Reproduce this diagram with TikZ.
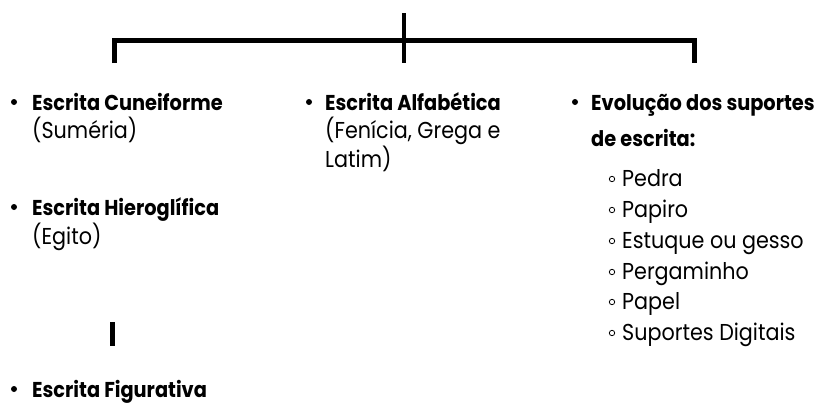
\documentclass[tikz,border=0pt]{standalone}
\usepackage{fontspec}
\setmainfont[FakeStretch=0.9]{Poppins}
\begin{document}
\begin{tikzpicture}[x=1pt,y=-1pt,
  head/.style={anchor=base west,inner sep=0pt,font=\fontsize{21.5}{24}\selectfont\bfseries},
  sub/.style={anchor=base west,inner sep=0pt,font=\fontsize{23}{26}\selectfont},
  bracket/.style={line width=4.5pt,line join=miter,line cap=butt},
  stem/.style={line width=3.5pt,line cap=butt},
  dot/.style={fill=black,draw=none},
  hollow/.style={draw=black,line width=0.8pt,fill=white}]
\useasboundingbox (0,0) rectangle (821,405);
% bracket
\coordinate (top) at (404,13);
\coordinate (mid) at (404,63);
\coordinate (bl) at (114.5,63);
\coordinate (br) at (694.5,63);
\draw[bracket] (bl) -- (114.5,40.5) -- (694.5,40.5) -- (br);
\draw[stem] (top) -- (mid);
% left column
\fill[dot] (14,102) circle (3);
\node[head] (cun) at (32,110) {Escrita Cuneiforme};
\node[sub] (sum) at (32,138) {(Suméria)};
\fill[dot] (14,207) circle (3);
\node[head] (hie) at (32,215) {Escrita Hieroglífica};
\node[sub] (egi) at (32,244) {(Egito)};
\coordinate (bart) at (112,322);
\coordinate (barb) at (112,346);
\draw[line width=5pt] (bart) -- (barb);
\fill[dot] (14,389) circle (3);
\node[head] (fig) at (32,397) {Escrita Figurativa};
% middle column
\fill[dot] (309,102) circle (3);
\node[head] (alf) at (325,110) {Escrita Alfabética};
\node[sub] (fen) at (325,138) {(Fenícia, Grega e};
\node[sub] (lat) at (325,167) {Latim)};
% right column
\fill[dot] (575,102) circle (3);
\node[head] (evo) at (591,110) {Evolução dos suportes};
\node[head] (esc) at (591,146) {de escrita:};
\foreach \t/\y [count=\i] in {Pedra/186,Papiro/217,Estuque ou gesso/248,Pergaminho/279,Papel/309,Suportes Digitais/340}{
  \draw[hollow] (612,\y-7) circle (2.7);
  \node[sub] (s\i) at (622,\y) {\t};
}
\end{tikzpicture}
\end{document}
